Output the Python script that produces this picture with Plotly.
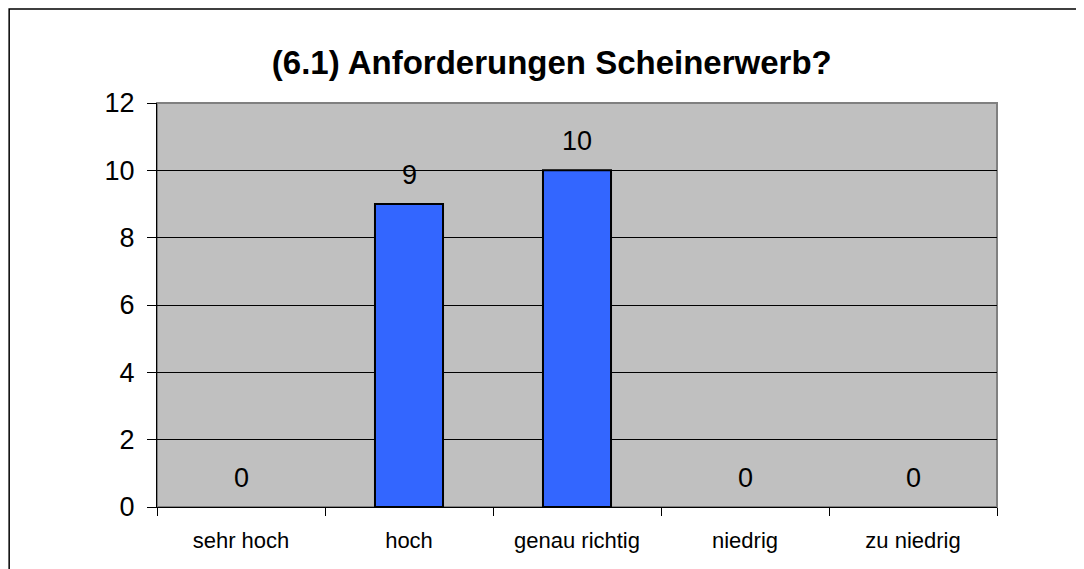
import plotly.graph_objects as go

# Data
categories = ['sehr hoch', 'hoch', 'genau richtig', 'niedrig', 'zu niedrig']
counts = [0, 9, 10, 0, 0]
y_ticks = [0, 2, 4, 6, 8, 10, 12]

FONT = 'Arial, Liberation Sans, sans-serif'

fig = go.Figure()

# no outline on empty bars, as in Excel
outline_widths = [2 if v > 0 else 0 for v in counts]

fig.add_trace(go.Bar(
    x=categories,
    y=counts,
    marker=dict(color='#3366FF', line=dict(color='black', width=outline_widths)),
    width=0.405,
    hoverinfo='x+y'
))

# Excel-style data labels above each bar
for cat, val in zip(categories, counts):
    fig.add_annotation(
        x=cat, y=val, text=str(val), showarrow=False,
        yanchor='middle', yshift=29,
        font=dict(family=FONT, size=27, color='black')
    )

# Outer chart frame (clipped at the right and bottom like the original)
fig.add_shape(type='rect', xref='paper', yref='paper',
              x0=-0.176, x1=1.3, y0=-0.3, y1=1.2327,
              line=dict(color='black', width=1.5), layer='below')

# Plot area border
fig.add_shape(type='rect', xref='paper', yref='paper',
              x0=0, x1=1, y0=0, y1=1,
              line=dict(color='#808080', width=2), layer='below')

fig.update_layout(
    title=dict(text='<b>(6.1) Anforderungen Scheinerwerb?</b>',
               x=0.47, xref='paper', xanchor='center',
               y=1 - 54 / 561, yref='container', yanchor='middle',
               font=dict(family=FONT, size=33, color='black')),
    width=1076, height=561,
    margin=dict(l=149, r=87, t=95, b=62),
    paper_bgcolor='white',
    plot_bgcolor='#C0C0C0',
    showlegend=False,
    bargap=0.595,
)

fig.update_yaxes(
    range=[0, 12], tickvals=y_ticks,
    showgrid=True, gridcolor='black', gridwidth=1,
    showline=True, linecolor='black', linewidth=1,
    ticks='outside', ticklen=9, tickcolor='black',
    ticklabelstandoff=7,
    tickfont=dict(family=FONT, size=27, color='black'),
    zeroline=False
)
fig.update_xaxes(
    showline=True, linecolor='black', linewidth=1,
    ticks='outside', ticklen=8, tickcolor='black', tickson='boundaries',
    ticklabelstandoff=14,
    tickfont=dict(family=FONT, size=22, color='black'),
    showgrid=False
)

fig.write_html('out.html')
